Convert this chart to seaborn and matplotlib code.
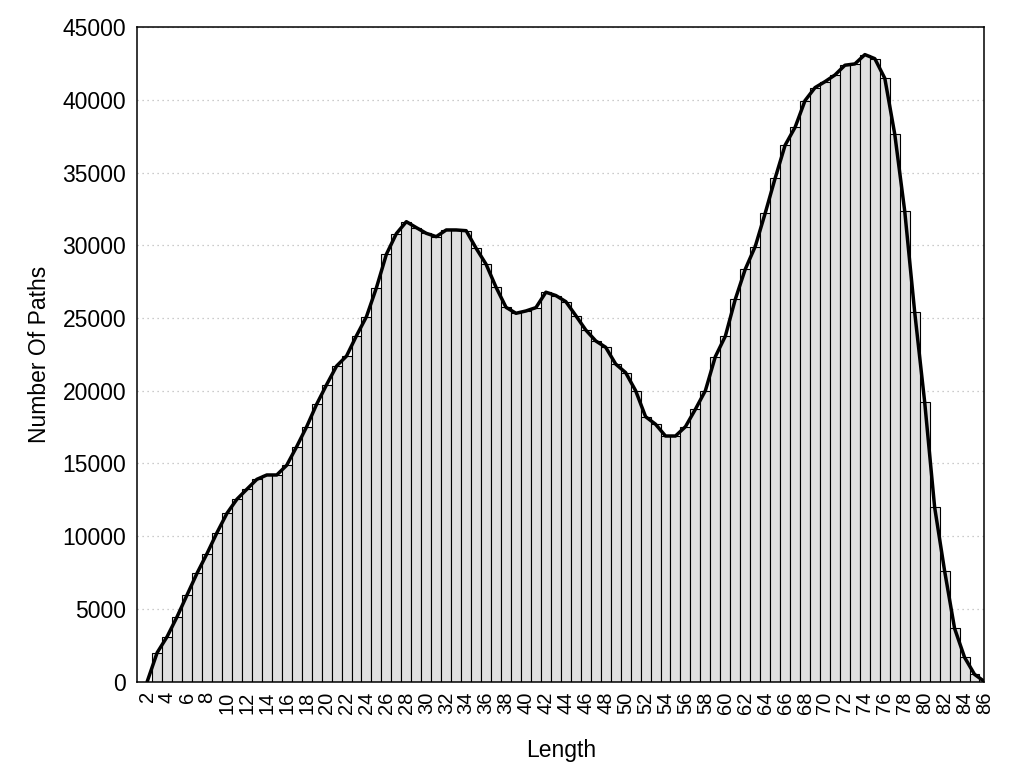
import matplotlib
matplotlib.use("Agg")
import matplotlib.pyplot as plt
import seaborn as sns

# path length -> number of paths
lengths = list(range(3, 86))
counts = [
    1990, 3090, 4460, 5960, 7450, 8800, 10240, 11570, 12540, 13230,   # 3-12
    13910, 14210, 14210, 14880, 16160, 17530, 19070, 20420, 21700, 22390,  # 13-22
    23790, 25100, 27090, 29390, 30810, 31630, 31220, 30830, 30600, 31060,  # 23-32
    31060, 31010, 29800, 28700, 27120, 25740, 25330, 25490, 25720, 26780,  # 33-42
    26550, 26130, 25170, 24180, 23430, 22990, 21840, 21250, 20010, 18220,  # 43-52
    17700, 16890, 16890, 17530, 18730, 20010, 22350, 23750, 26290, 28360,  # 53-62
    29920, 32210, 34620, 36890, 38120, 39960, 40850, 41260, 41720, 42390,  # 63-72
    42480, 43120, 42840, 41490, 37640, 32350, 25400, 19230, 11990, 7610,   # 73-82
    3660, 1670, 500,                                                       # 83-85
]

# smoothed outline: starts and ends on the axis
curve_x = [2] + lengths + [86]
curve_y = [0] + counts + [0]

xticks = list(range(2, 87, 2))
yticks = list(range(0, 45001, 5000))

sns.set_theme(style="white")
plt.rcParams['font.family'] = ['Liberation Sans', 'DejaVu Sans']
plt.rcParams.update({'text.color': 'black', 'axes.labelcolor': 'black',
                     'xtick.color': 'black', 'ytick.color': 'black'})

fig = plt.figure(figsize=(10.24, 7.68), dpi=100)
ax = fig.add_axes([0.134, 0.1125, 0.8274, 0.852])

sns.barplot(x=lengths, y=counts, native_scale=True, width=1, color="#e0e0e0",
            saturation=1, edgecolor="black", linewidth=0.8, ax=ax)
sns.lineplot(x=curve_x, y=curve_y, color="black", linewidth=2.5, ax=ax)

ax.set_xlim(1, 86)
ax.set_ylim(0, 45000)
ax.set_xticks(xticks)
ax.set_xticklabels([str(t) for t in xticks], rotation=90, fontsize=14.5)
ax.set_yticks(yticks)
ax.set_yticklabels([str(t) for t in yticks], fontsize=16.5)
ax.tick_params(axis='y', direction='in', length=7, width=1, color='black', pad=8)
ax.tick_params(axis='x', length=0, pad=7)

ax.yaxis.grid(True, linestyle=(0, (1, 3)), color="#bbbbbb", linewidth=0.9)
ax.set_axisbelow(True)
for sp in ax.spines.values():
    sp.set_color("black")
    sp.set_linewidth(1.1)

ax.set_xlabel("Length", fontsize=16.5, labelpad=18)
ax.set_ylabel("Number Of Paths", fontsize=16.5, labelpad=8)

fig.savefig("out.png", dpi=100)
